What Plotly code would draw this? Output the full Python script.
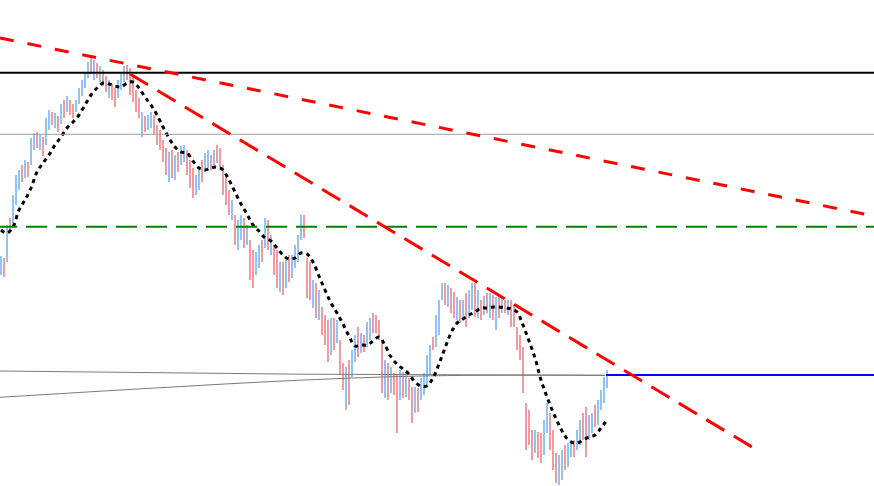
import plotly.graph_objects as go

# ---------------- data (price units; bar index on x) ----------------
bar_high = [
    244, 242, 275, 282, 305, 325, 330, 335, 340, 338,
    362, 367, 368, 365, 363, 382, 390, 388, 387, 384,
    396, 400, 404, 400, 396, 400, 412, 420, 428, 438,
    442, 440, 437, 434, 430, 424, 420, 416, 412, 420,
    426, 434, 435, 432, 424, 410, 402, 388, 384, 385,
    388, 385, 375, 370, 360, 352, 348, 350, 345, 348,
    354, 355, 350, 340, 332, 325, 332, 340, 347, 350,
    345, 350, 355, 352, 335, 325, 310, 300, 285, 280,
    285, 282, 275, 260, 250, 248, 255, 260, 282, 280,
    265, 255, 250, 238, 238, 242, 245, 245, 255, 265,
    285, 285, 242, 238, 220, 217, 210, 193, 185, 180,
    182, 182, 180, 160, 137, 133, 140, 150, 165, 173,
    167, 165, 178, 182, 187, 185, 180, 160, 140, 137,
    133, 127, 125, 130, 128, 127, 122, 113, 113, 112,
    122, 127, 145, 155, 163, 185, 200, 217, 217, 215,
    212, 208, 203, 200, 200, 207, 210, 217, 217, 210,
    200, 204, 207, 207, 205, 203, 205, 203, 200, 200,
    200, 195, 173, 165, 153, 97, 90, 70, 70, 68,
    67, 80, 97, 87, 70, 47, 45, 50, 55, 57,
    60, 60, 70, 80, 87, 93, 85, 87, 95, 100,
    110, 123, 130,
]
bar_low = [
    225, 223, 238, 268, 275, 295, 310, 318, 322, 323,
    335, 350, 352, 350, 344, 355, 370, 375, 372, 368,
    376, 382, 388, 385, 382, 388, 396, 404, 412, 422,
    426, 420, 422, 418, 414, 408, 402, 400, 393, 402,
    410, 418, 420, 405, 398, 388, 382, 363, 368, 370,
    372, 365, 355, 350, 338, 325, 318, 322, 320, 328,
    335, 338, 325, 312, 302, 305, 310, 318, 328, 332,
    330, 334, 337, 332, 305, 295, 285, 280, 255, 250,
    260, 252, 255, 220, 212, 225, 232, 238, 252, 250,
    245, 225, 212, 208, 205, 212, 218, 222, 232, 238,
    260, 262, 202, 200, 192, 182, 180, 165, 155, 138,
    145, 150, 157, 125, 110, 90, 95, 123, 138, 143,
    147, 148, 153, 160, 167, 167, 160, 107, 102, 100,
    107, 105, 67, 100, 102, 103, 100, 77, 87, 88,
    100, 105, 113, 125, 150, 153, 165, 200, 195, 193,
    187, 182, 180, 177, 180, 173, 182, 190, 183, 182,
    180, 185, 187, 182, 180, 170, 182, 187, 187, 185,
    173, 173, 150, 140, 107, 50, 55, 40, 47, 42,
    37, 45, 67, 50, 30, 17, 15, 20, 30, 33,
    43, 43, 50, 55, 60, 43, 60, 67, 73, 75,
    90, 97, 112,
]
bar_dir = ("ududu uudud uudud uudud ududd uuuuu dudud duddu uuddd ddudu "
           "udddd dudud uuddd uuduu duddd ddudu ududd uudud uddud uduuu "
           "udddu duddd ududd uduud uduud dddud uddud uddud uuuud uuudu "
           "ddudu duudu dudud ududu ddddd dddud duudd duudu uduud duudu uuu")

# moving average, sampled every second bar
ma_values = [
    270, 267, 273, 290, 300, 312, 328, 337, 345, 355,
    363, 372, 378, 385, 395, 405, 412, 417, 416, 414,
    413, 417, 418, 412, 403, 395, 385, 373, 362, 353,
    348, 347, 339, 332, 330, 332, 333, 330, 320, 308,
    296, 286, 275, 269, 262, 259, 252, 245, 241, 242,
    247, 246, 238, 224, 210, 197, 187, 176, 164, 154,
    155, 155, 159, 163, 155, 143, 136, 131, 126, 118,
    114, 114, 122, 136, 152, 167, 177, 181, 185, 188,
    192, 192, 193, 193, 192, 191, 188, 175, 159, 142,
    120, 103, 88, 75, 64, 58, 57, 60, 63, 65,
    72, 80,
]

# trend lines (bar index, price)
trend_long_x = [-0.34, 291.0]
trend_long_y = [462, 284]
trend_steep_x = [43.0, 252.0]
trend_steep_y = [426, 50]

# horizontal levels
level_black = 427.3
level_gray = 365.7
level_green = 273.3
level_blue = 125.0
blue_start = 201.67

# converging gray lines
gray_a_x = [-0.34, 99.67, 201.33]
gray_a_y = [129.0, 125.8, 124.7]
gray_b_x = [-0.34, 49.67, 99.67, 144.0, 201.33]
gray_b_y = [102.7, 111.7, 119.8, 124.2, 124.7]

X_RANGE = [-1 / 3, 291.0]
Y_RANGE = [14, 500]

# ---------------- figure ----------------
dirs = bar_dir.replace(" ", "")
n = len(bar_high)
idx = list(range(n))
UP, DOWN = "#90c4f6", "#f29a9e"
colors = [UP if (i < len(dirs) and dirs[i] == "u") else DOWN for i in idx]

fig = go.Figure()
fig.add_trace(go.Bar(
    x=idx, base=bar_low, y=[h - l for h, l in zip(bar_high, bar_low)],
    width=0.55, marker=dict(color=colors, line=dict(width=0)),
    hoverinfo="skip",
))

line_kw = dict(mode="lines", hoverinfo="skip")
fig.add_trace(go.Scatter(x=gray_a_x, y=gray_a_y, line=dict(color="#7a7a7a", width=1), **line_kw))
fig.add_trace(go.Scatter(x=gray_b_x, y=gray_b_y, line=dict(color="#7a7a7a", width=1, shape="spline"), **line_kw))

fig.add_trace(go.Scatter(x=list(range(0, 2 * len(ma_values), 2)), y=ma_values,
                         line=dict(color="black", width=3, dash="4px,4px", shape="spline"), **line_kw))

fig.add_trace(go.Scatter(x=[X_RANGE[0] - 2, X_RANGE[1] + 2], y=[level_black] * 2,
                         line=dict(color="black", width=2), **line_kw))
fig.add_trace(go.Scatter(x=[X_RANGE[0] - 2, X_RANGE[1] + 2], y=[level_gray] * 2,
                         line=dict(color="#a0a0a0", width=1), **line_kw))
fig.add_trace(go.Scatter(x=[-1.67, X_RANGE[1] + 2], y=[level_green] * 2,
                         line=dict(color="green", width=2, dash="21px,9px"), **line_kw))
fig.add_trace(go.Scatter(x=[blue_start, X_RANGE[1] + 2], y=[level_blue] * 2,
                         line=dict(color="blue", width=2), **line_kw))

fig.add_trace(go.Scatter(x=trend_long_x, y=trend_long_y,
                         line=dict(color="red", width=3, dash="14px,14px"), **line_kw))
fig.add_trace(go.Scatter(x=trend_steep_x, y=trend_steep_y,
                         line=dict(color="red", width=3, dash="21px,11px"), **line_kw))

fig.update_layout(
    width=874, height=486,
    margin=dict(l=0, r=0, t=0, b=0),
    paper_bgcolor="white", plot_bgcolor="white",
    showlegend=False, barmode="overlay", bargap=0,
    xaxis=dict(range=X_RANGE, visible=False, fixedrange=True),
    yaxis=dict(range=Y_RANGE, visible=False, fixedrange=True),
)

fig.write_html(
    "out.html",
    config={"displayModeBar": False},
    post_script="document.body.style.margin='0';document.body.style.overflow='hidden';",
)
